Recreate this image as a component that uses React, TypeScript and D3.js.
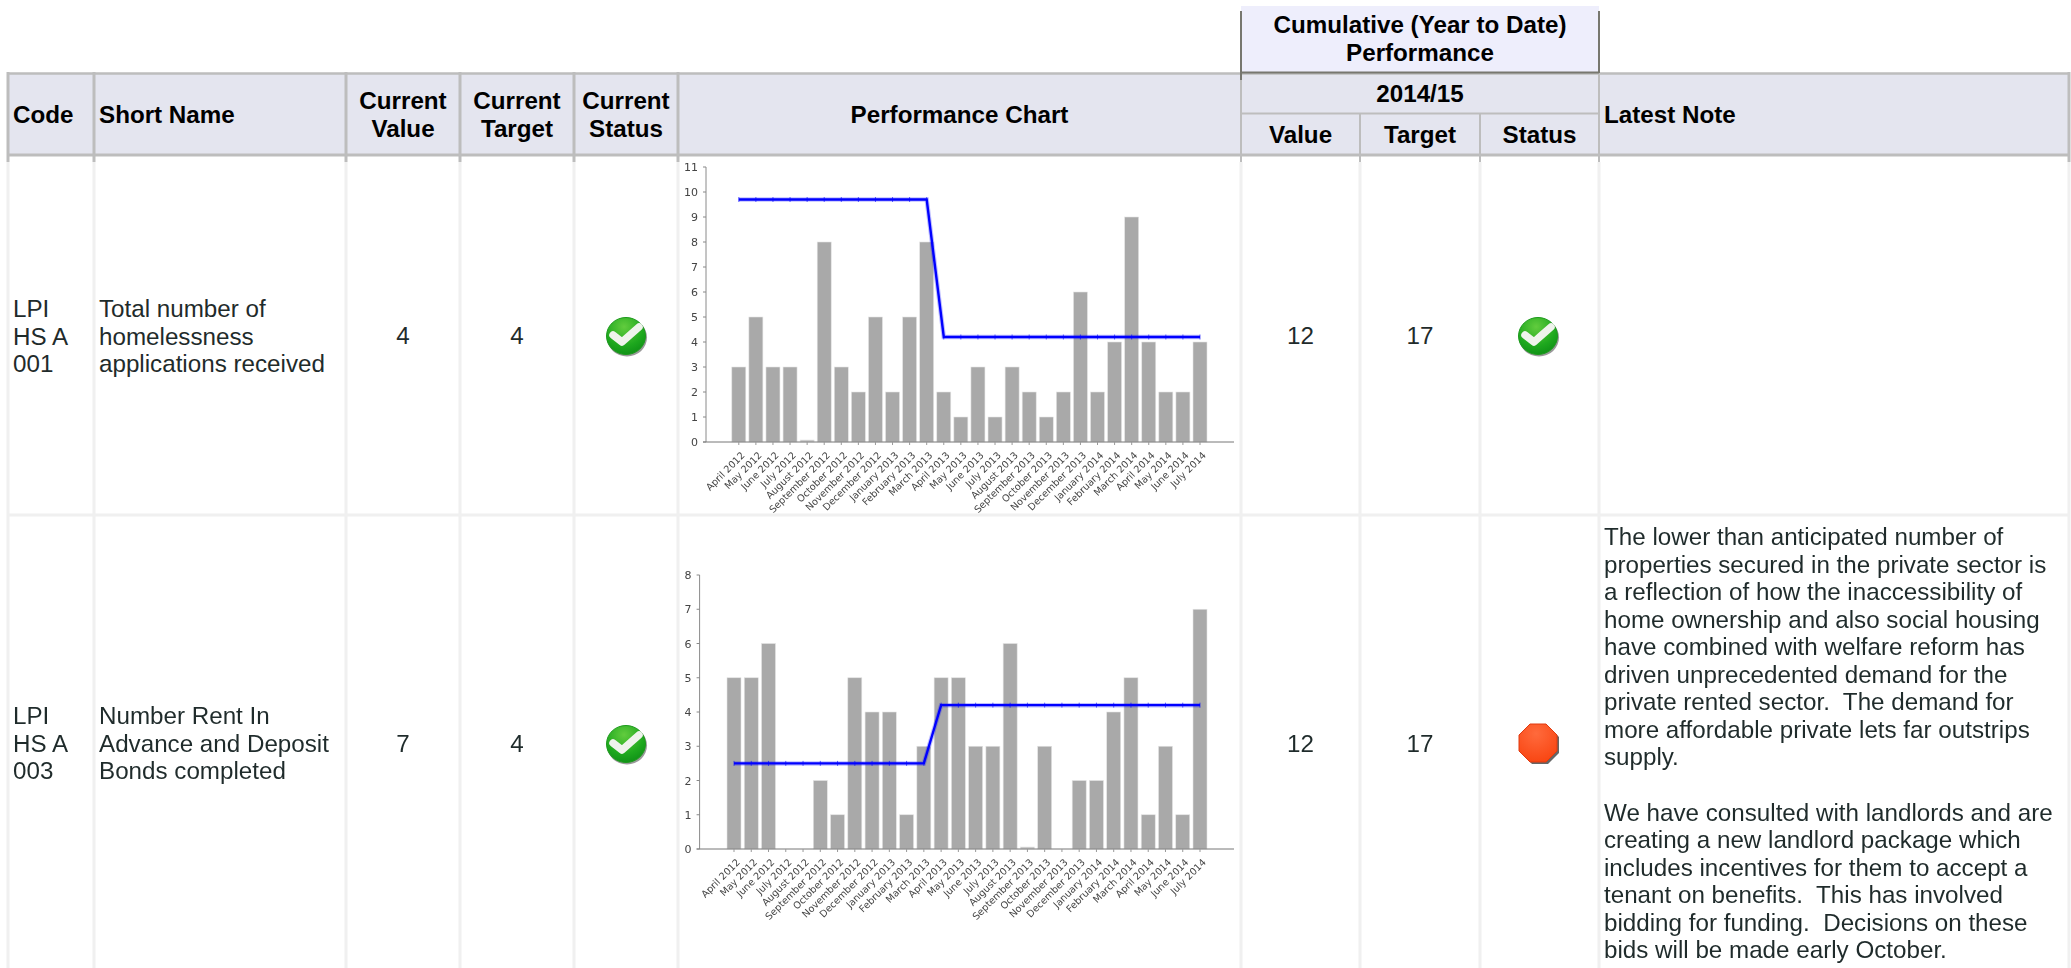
import React from "react";
import * as d3 from "d3";

const months = ["April 2012","May 2012","June 2012","July 2012","August 2012","September 2012","October 2012","November 2012","December 2012","January 2013","February 2013","March 2013","April 2013","May 2013","June 2013","July 2013","August 2013","September 2013","October 2013","November 2013","December 2013","January 2014","February 2014","March 2014","April 2014","May 2014","June 2014","July 2014"];
const actual1 = [3,5,3,3,0,8,3,2,5,2,5,8,2,1,3,1,3,2,1,2,6,2,4,9,4,2,2,4];
const target1 = [9.7,9.7,9.7,9.7,9.7,9.7,9.7,9.7,9.7,9.7,9.7,9.7,4.2,4.2,4.2,4.2,4.2,4.2,4.2,4.2,4.2,4.2,4.2,4.2,4.2,4.2,4.2,4.2];
const actual2 = [5,5,6,null,null,2,1,5,4,4,1,3,5,5,3,3,6,0,3,null,2,2,4,5,1,3,1,7];
const target2 = [2.5,2.5,2.5,2.5,2.5,2.5,2.5,2.5,2.5,2.5,2.5,2.5,4.2,4.2,4.2,4.2,4.2,4.2,4.2,4.2,4.2,4.2,4.2,4.2,4.2,4.2,4.2,4.2];
const note1 = ["The lower than anticipated number of","properties secured in the private sector is","a reflection of how the inaccessibility of","home ownership and also social housing","have combined with welfare reform has","driven unprecedented demand for the","private rented sector.  The demand for","more affordable private lets far outstrips","supply."];
const note2 = ["We have consulted with landlords and are","creating a new landlord package which","includes incentives for them to accept a","tenant on benefits.  This has involved","bidding for funding.  Decisions on these","bids will be made early October."];

const FONT = "'Liberation Sans', Arial, sans-serif";
const TXT = "#1f2b2b";
const colX = [8,94,346,460,574,678,1241,1360,1480,1599,2069];
const HDR = "#e4e5ef";
const HL = "#bdbdbd";
const GRID = "#f0f0f0";

function Chart({actual,target,maxV,x0,x1,first,yTop,yBase}:{actual:(number|null)[],target:number[],maxV:number,x0:number,x1:number,first:number,yTop:number,yBase:number}){
  const x = d3.scalePoint<string>().domain(months).range([first,1200]);
  const y = d3.scaleLinear().domain([0,maxV]).range([yBase,yTop]);
  const line = d3.line<number>().x((_,i)=>x(months[i])!).y(d=>y(d));
  const bw = 14;
  return <g filter="url(#soft)">
    {actual.map((v,i)=> v===null?null:
      <rect key={i} x={x(months[i])!-bw/2} y={v===0?yBase-2:y(v)} width={bw} height={v===0?2:yBase-y(v)} fill={v===0?"#c4c4c4":"#a9a9a9"} stroke="#e4e4e4" strokeWidth={0.6}/>)}
    <line x1={x0} x2={x0} y1={yTop} y2={yBase} stroke="#8a8a8a" strokeWidth={1}/>
    <line x1={x0-3} x2={x1} y1={yBase} y2={yBase} stroke="#777" strokeWidth={1}/>
    {y.ticks(maxV).map(t=><g key={t}>
      <line x1={x0-3} x2={x0} y1={y(t)} y2={y(t)} stroke="#888" strokeWidth={1}/>
      <text x={x0-8} y={y(t)+4} textAnchor="end" fontFamily="'DejaVu Sans', sans-serif" fontSize={11} fill="#444">{t}</text>
    </g>)}
    <path d={line(target)!} fill="none" stroke="#0000ff" strokeOpacity={0.25} strokeWidth={4.5}/>
    <path d={line(target)!} fill="none" stroke="#0000ff" strokeWidth={2.4}/>
    {target.map((v,i)=><line key={i} x1={x(months[i])} x2={x(months[i])} y1={y(v)-2.5} y2={y(v)+2.5} stroke="#0000ff" strokeWidth={1} strokeOpacity={0.6}/>)}
    {months.map(m=><line key={m} x1={x(m)} x2={x(m)} y1={yBase} y2={yBase+3} stroke="#999" strokeWidth={1}/>)}
    {months.map(m=><text key={m} transform={`translate(${x(m)! + 6.5},${yBase+14}) rotate(-45)`} textAnchor="end" fontFamily="'DejaVu Sans', sans-serif" fontSize={9.7} fill="#444">{m}</text>)}
  </g>;
}

function Tick({cx,cy}:{cx:number,cy:number}){
  return <g>
    <ellipse cx={cx+1} cy={cy+1.5} rx={20} ry={19} fill="#555" opacity={0.6}/>
    <ellipse cx={cx} cy={cy} rx={19.5} ry={18.5} fill="url(#gr)" stroke="#1c9a1c" strokeWidth={1}/>
    <path d={`M${cx-13},${cy-1} L${cx-4},${cy+6} L${cx+13},${cy-9}`} fill="none" stroke="#eff3ec" strokeWidth={7.5} strokeLinecap="round" strokeLinejoin="round"/>
  </g>;
}
function Stop({cx,cy}:{cx:number,cy:number}){
  const pts = (dx:number,dy:number)=>{const r=19,k=8;return [[-k,-r],[k,-r],[r,-k],[r,k],[k,r],[-k,r],[-r,k],[-r,-k]].map(p=>`${cx+dx+p[0]},${cy+dy+p[1]}`).join(" ");};
  return <g>
    <polygon points={pts(2,2)} fill="#666"/>
    <polygon points={pts(0,0)} fill="url(#rd)" stroke="#e03a10" strokeWidth={1}/>
  </g>;
}

function Cell({x,y,lines,anchor="start",bold=false,size=24.2,lh=27.5}:{x:number,y:number,lines:string[],anchor?:string,bold?:boolean,size?:number,lh?:number}){
  return <text fontFamily={FONT} fontSize={size} fontWeight={bold?"bold":"normal"} fill={bold?"#000":TXT} textAnchor={anchor as any} style={{whiteSpace:"pre"}}>
    {lines.map((l,i)=><tspan key={i} x={x} y={y+i*lh}>{l}</tspan>)}
  </text>;
}

export default function App(){
  const mid=(a:number,b:number)=>(colX[a]+colX[b])/2;
  return <svg width={2071} height={968} style={{position:"absolute",left:0,top:0,background:"#fff"}}>
    <defs>
      <radialGradient id="gr" cx="45%" cy="25%" r="85%"><stop offset="0%" stopColor="#62cc3e"/><stop offset="60%" stopColor="#1ea81e"/><stop offset="100%" stopColor="#0b8a14"/></radialGradient>
      <radialGradient id="rd" cx="45%" cy="25%" r="85%"><stop offset="0%" stopColor="#ff6a3c"/><stop offset="100%" stopColor="#f8420e"/></radialGradient>
      <filter id="soft" x="-5%" y="-5%" width="110%" height="110%"><feGaussianBlur stdDeviation="0.35"/></filter>
    </defs>
    <rect x={1241} y={6} width={358} height={66} fill="#eeeefc"/>
    <rect x={8} y={73} width={2061} height={82} fill={HDR}/>

    {colX.map((x,i)=><line key={i} x1={x} x2={x} y1={162} y2={968} stroke={GRID} strokeWidth={3}/>)}
    <line x1={8} x2={2069} y1={515} y2={515} stroke={GRID} strokeWidth={3}/>

    <line x1={8} x2={2069} y1={73.5} y2={73.5} stroke={HL} strokeWidth={2.5}/>
    <line x1={8} x2={2069} y1={155} y2={155} stroke={HL} strokeWidth={3}/>
    <line x1={1241} x2={1599} y1={113.5} y2={113.5} stroke={HL} strokeWidth={2}/>
    {colX.map((x,i)=>{
      if(i===6||i===9) return <g key={i}/>;
      const top = (i===7||i===8)?113:72;
      const w = (i===7||i===8)?2:3;
      return <line key={i} x1={x} x2={x} y1={top} y2={162} stroke={HL} strokeWidth={w}/>;
    })}
    <line x1={1599} x2={1599} y1={73} y2={162} stroke={HL} strokeWidth={2}/>
    <line x1={1241} x2={1241} y1={80} y2={162} stroke={HL} strokeWidth={2}/>
    <line x1={1241} x2={1241} y1={11} y2={80} stroke="#77776f" strokeWidth={2}/>
    <line x1={1599} x2={1599} y1={11} y2={73} stroke="#77776f" strokeWidth={2}/>
    <line x1={1241} x2={1599} y1={72.5} y2={72.5} stroke="#77776f" strokeWidth={2}/>

    <Cell x={13} y={123} lines={["Code"]} bold/>
    <Cell x={99} y={123} lines={["Short Name"]} bold/>
    <Cell x={mid(2,3)} y={109} lines={["Current","Value"]} anchor="middle" bold/>
    <Cell x={mid(3,4)} y={109} lines={["Current","Target"]} anchor="middle" bold/>
    <Cell x={mid(4,5)} y={109} lines={["Current","Status"]} anchor="middle" bold/>
    <Cell x={mid(5,6)} y={123} lines={["Performance Chart"]} anchor="middle" bold/>
    <Cell x={mid(6,9)} y={33} lines={["Cumulative (Year to Date)","Performance"]} anchor="middle" bold/>
    <Cell x={mid(6,9)} y={102} lines={["2014/15"]} anchor="middle" bold/>
    <Cell x={mid(6,7)} y={143} lines={["Value"]} anchor="middle" bold/>
    <Cell x={mid(7,8)} y={143} lines={["Target"]} anchor="middle" bold/>
    <Cell x={mid(8,9)} y={143} lines={["Status"]} anchor="middle" bold/>
    <Cell x={1604} y={123} lines={["Latest Note"]} bold/>

    <Cell x={13} y={317} lines={["LPI","HS A","001"]}/>
    <Cell x={99} y={317} lines={["Total number of","homelessness","applications received"]}/>
    <Cell x={mid(2,3)} y={344} lines={["4"]} anchor="middle"/>
    <Cell x={mid(3,4)} y={344} lines={["4"]} anchor="middle"/>
    <Tick cx={626} cy={336}/>
    <Chart actual={actual1} target={target1} maxV={11} x0={706} x1={1234} first={738.8} yTop={167} yBase={442}/>
    <Cell x={mid(6,7)} y={344} lines={["12"]} anchor="middle"/>
    <Cell x={mid(7,8)} y={344} lines={["17"]} anchor="middle"/>
    <Tick cx={1538} cy={336}/>

    <Cell x={13} y={724} lines={["LPI","HS A","003"]}/>
    <Cell x={99} y={724} lines={["Number Rent In","Advance and Deposit","Bonds completed"]}/>
    <Cell x={mid(2,3)} y={752} lines={["7"]} anchor="middle"/>
    <Cell x={mid(3,4)} y={752} lines={["4"]} anchor="middle"/>
    <Tick cx={626} cy={744}/>
    <Chart actual={actual2} target={target2} maxV={8} x0={699.6} x1={1234} first={734} yTop={575} yBase={849}/>
    <Cell x={mid(6,7)} y={752} lines={["12"]} anchor="middle"/>
    <Cell x={mid(7,8)} y={752} lines={["17"]} anchor="middle"/>
    <Stop cx={1538} cy={743}/>
    <Cell x={1604} y={545} lines={note1} lh={27.55}/>
    <Cell x={1604} y={820.5} lines={note2} lh={27.55}/>
  </svg>;
}
